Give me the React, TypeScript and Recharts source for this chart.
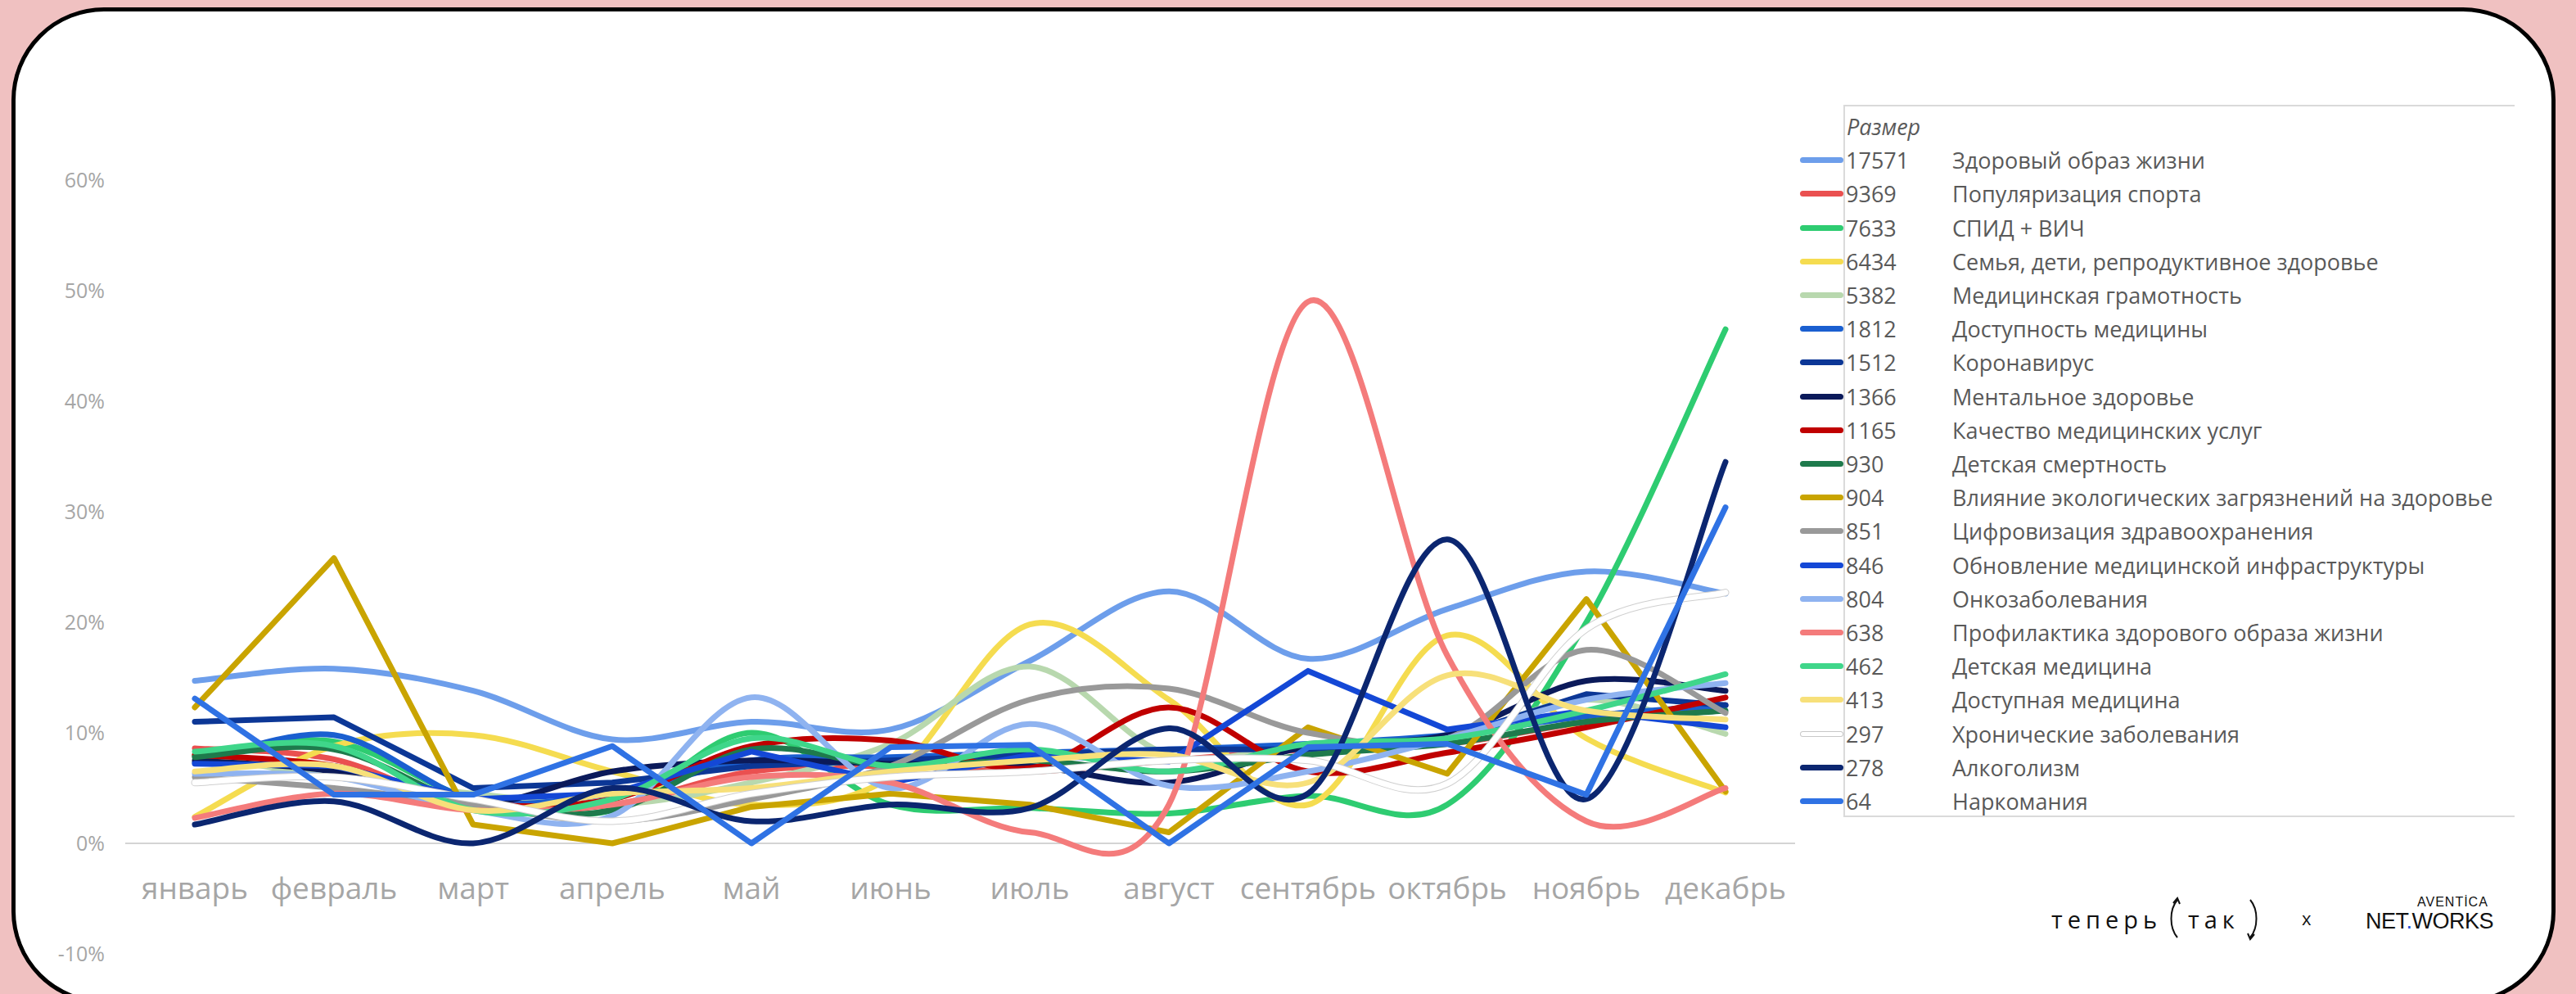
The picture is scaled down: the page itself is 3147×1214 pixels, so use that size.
import { LineChart, Line, XAxis, YAxis, ReferenceLine, Legend } from 'recharts'

const months = ['январь', 'февраль', 'март', 'апрель', 'май', 'июнь', 'июль', 'август', 'сентябрь', 'октябрь', 'ноябрь', 'декабрь']

const seriesNames = [
  'Здоровый образ жизни',
  'Популяризация спорта',
  'СПИД + ВИЧ',
  'Семья, дети, репродуктивное здоровье',
  'Медицинская грамотность',
  'Доступность медицины',
  'Коронавирус',
  'Ментальное здоровье',
  'Качество медицинских услуг',
  'Детская смертность',
  'Влияние экологических загрязнений на здоровье',
  'Цифровизация здравоохранения',
  'Обновление медицинской инфраструктуры',
  'Онкозаболевания',
  'Профилактика здорового образа жизни',
  'Детская медицина',
  'Доступная медицина',
  'Хронические заболевания',
  'Алкоголизм',
  'Наркомания',
]
const seriesSizes = [17571, 9369, 7633, 6434, 5382, 1812, 1512, 1366, 1165, 930, 904, 851, 846, 804, 638, 462, 413, 297, 278, 64]

// share of mentions per month, %
const zozh = [14.7, 15.8, 13.8, 9.4, 11.0, 10.3, 16.5, 22.8, 16.7, 21.2, 24.6, 22.6]
const sport = [8.6, 7.6, 3.2, 3.5, 6.5, 7.0, 6.5, 7.5, 8.5, 9.0, 11.0, 12.5]
const aids = [7.9, 9.2, 4.0, 3.0, 10.0, 3.5, 3.2, 2.7, 4.3, 3.5, 20.0, 46.5]
const family = [2.4, 8.8, 9.8, 6.5, 3.5, 6.0, 19.8, 13.0, 3.5, 18.8, 9.5, 4.6]
const literacy = [8.0, 6.0, 4.5, 3.5, 5.5, 9.0, 16.0, 8.0, 9.0, 9.5, 13.0, 9.9]
const access = [7.3, 9.8, 4.0, 4.5, 7.5, 7.8, 8.2, 8.5, 9.0, 9.8, 11.5, 12.5]
const covid = [11.0, 11.4, 5.0, 5.5, 7.0, 7.5, 8.0, 8.5, 8.5, 9.5, 13.5, 12.5]
const mental = [7.5, 6.5, 3.5, 6.5, 7.5, 7.2, 7.0, 5.5, 8.8, 9.8, 14.7, 13.8]
const quality = [8.0, 7.0, 3.7, 4.0, 8.8, 9.3, 6.8, 12.3, 6.5, 8.2, 10.5, 13.2]
const childDeath = [7.8, 8.5, 3.5, 3.0, 8.5, 7.0, 7.5, 6.5, 8.0, 9.0, 11.0, 12.0]
const ecology = [12.3, 25.8, 1.7, 0.0, 3.3, 4.5, 3.5, 1.0, 10.5, 6.3, 22.1, 4.7]
const digital = [6.0, 5.0, 3.5, 2.0, 4.0, 7.0, 13.0, 14.0, 10.0, 9.5, 17.5, 11.8]
const infra = [7.2, 7.0, 4.0, 4.5, 8.3, 5.5, 8.0, 7.4, 15.6, 10.3, 12.0, 10.5]
const onco = [6.3, 6.0, 3.0, 2.5, 13.2, 5.0, 10.8, 5.2, 6.5, 9.5, 13.0, 14.5]
const prevention = [2.3, 4.5, 3.0, 3.5, 6.0, 5.5, 1.0, 3.5, 49.0, 17.0, 2.0, 5.0]
const childMed = [8.3, 8.8, 3.0, 4.0, 9.5, 7.0, 8.5, 6.5, 9.0, 9.5, 12.0, 15.3]
const affordable = [6.5, 7.0, 3.0, 4.5, 5.0, 6.5, 7.5, 8.0, 5.5, 15.2, 12.0, 11.2]
const chronic = [5.5, 6.0, 4.0, 2.0, 4.5, 6.0, 6.5, 7.5, 7.5, 5.4, 19.4, 22.7]
const alcohol = [1.7, 3.8, 0.0, 5.0, 2.0, 3.5, 3.2, 10.4, 4.5, 27.5, 4.0, 34.5]
const drugs = [13.1, 4.4, 4.4, 8.8, 0.0, 8.7, 8.9, 0.0, 8.7, 9.0, 4.4, 30.4]

const seriesValues = [
  zozh, sport, aids, family, literacy, access, covid, mental, quality, childDeath,
  ecology, digital, infra, onco, prevention, childMed, affordable, chronic, alcohol, drugs,
]

const yTicks = [-10, 0, 10, 20, 30, 40, 50, 60]

const colors = [
  '#6d9eeb', '#ea5050', '#2ecc71', '#f5dc50', '#b8d8ae', '#1a5fd0', '#0c3796', '#0b1a5a', '#c00000', '#1e7a4c',
  '#c9a400', '#999999', '#1448d6', '#8fb3f0', '#f47b7b', '#3fd68a', '#f7e07a', '#ffffff', '#0b2670', '#2f72e4',
]
// these series are drawn with straight segments in the source
const straight = [6, 10, 12, 19]
const WHITE = 17

const rows = months.map((month, i) => {
  const row: Record<string, string | number> = { month }
  seriesValues.forEach((vals, s) => {
    row[`s${s}`] = vals[i]
  })
  return row
})

// Excel-style smoothed line (uniform Catmull-Rom as cubic beziers)
function excelSmooth(context: any) {
  let pts: number[][] = []
  return {
    areaStart() {},
    areaEnd() {},
    lineStart() {
      pts = []
    },
    point(x: number, y: number) {
      pts.push([+x, +y])
    },
    lineEnd() {
      const n = pts.length
      if (!n) return
      context.moveTo(pts[0][0], pts[0][1])
      for (let i = 0; i < n - 1; i++) {
        const p0 = pts[Math.max(i - 1, 0)]
        const p1 = pts[i]
        const p2 = pts[i + 1]
        const p3 = pts[Math.min(i + 2, n - 1)]
        context.bezierCurveTo(
          p1[0] + (p2[0] - p0[0]) / 6,
          p1[1] + (p2[1] - p0[1]) / 6,
          p2[0] - (p3[0] - p1[0]) / 6,
          p2[1] - (p3[1] - p1[1]) / 6,
          p2[0],
          p2[1],
        )
      }
    },
  }
}

const FONT = "'Open Sans', 'DejaVu Sans', sans-serif"

function MonthTick({ x, y, payload }: any) {
  return (
    <text x={x} y={y - 82} textAnchor="middle" dominantBaseline="central" fill="#a6a6a6" fontSize={37} fontFamily={FONT}>
      {payload.value}
    </text>
  )
}

const ROW = 41.2

function LegendBox() {
  return (
    <div style={{ position: 'relative', width: 880, height: 872, fontFamily: FONT, fontSize: 27, color: '#595959' }}>
      <div
        style={{
          position: 'absolute',
          left: 53,
          top: 0,
          width: 820,
          height: 870,
          boxSizing: 'border-box',
          border: '2px solid #dadada',
          borderRight: 'none',
        }}
      />
      <div style={{ position: 'absolute', left: 57, top: 6, height: ROW, lineHeight: `${ROW}px`, fontStyle: 'italic' }}>Размер</div>
      {seriesNames.map((name, k) => (
        <div key={name} style={{ position: 'absolute', left: 0, top: 6 + (k + 1) * ROW, height: ROW, width: 880 }}>
          <div
            style={{
              position: 'absolute',
              left: 0,
              top: ROW / 2 - 3.5,
              width: 53,
              height: 7,
              borderRadius: 4,
              background: colors[k],
              boxShadow: k === WHITE ? 'inset 0 0 0 1px #c8c8c8' : undefined,
            }}
          />
          <div style={{ position: 'absolute', left: 56, top: 0, lineHeight: `${ROW}px` }}>{seriesSizes[k]}</div>
          <div style={{ position: 'absolute', left: 186, top: 0, lineHeight: `${ROW}px`, whiteSpace: 'nowrap' }}>{name}</div>
        </div>
      ))}
    </div>
  )
}

function Bracket({ up }: { up: boolean }) {
  return (
    <svg width={20} height={58} viewBox="0 0 20 58" style={{ margin: '0 6px' }}>
      {up ? (
        <>
          <path d="M13 6 C3 18 3 40 13 52" fill="none" stroke="#111" strokeWidth={2} />
          <path d="M8 10 L13 4 L16 11" fill="none" stroke="#111" strokeWidth={2} />
        </>
      ) : (
        <>
          <path d="M7 6 C17 18 17 40 7 52" fill="none" stroke="#111" strokeWidth={2} />
          <path d="M4 47 L7 54 L12 48" fill="none" stroke="#111" strokeWidth={2} />
        </>
      )}
    </svg>
  )
}

function Brand() {
  return (
    <>
      <div
        style={{
          position: 'absolute',
          left: 2506,
          top: 1093,
          height: 58,
          display: 'flex',
          alignItems: 'center',
          fontFamily: FONT,
          fontSize: 29,
          color: '#111',
          letterSpacing: 6,
        }}
      >
        <span>теперь</span>
        <Bracket up />
        <span>так</span>
        <Bracket up={false} />
      </div>
      <div style={{ position: 'absolute', left: 2812, top: 1106, fontFamily: FONT, fontSize: 22, color: '#111' }}>x</div>
      <div
        style={{
          position: 'absolute',
          left: 2953,
          top: 1093,
          fontFamily: "'Liberation Sans', Arial, sans-serif",
          fontSize: 16,
          letterSpacing: 1,
          color: '#111',
        }}
      >
        AVENTİCA
      </div>
      <div
        style={{
          position: 'absolute',
          left: 2890,
          top: 1110,
          fontFamily: "'Liberation Sans', Arial, sans-serif",
          fontSize: 27,
          letterSpacing: -0.5,
          color: '#111',
        }}
      >
        NET<span style={{ color: '#1f4fd8' }}>.</span>WORKS
      </div>
    </>
  )
}

export default function App() {
  return (
    <div style={{ position: 'fixed', left: 0, top: 0, width: 3147, height: 1214, background: '#f0c1c1', overflow: 'hidden' }}>
      <div
        style={{
          position: 'absolute',
          left: 14,
          top: 9,
          width: 3108,
          height: 1217,
          boxSizing: 'border-box',
          border: '5px solid #000',
          borderRadius: 113,
          background: '#fff',
        }}
      />
      <div style={{ position: 'absolute', left: 0, top: 0 }}>
        <LineChart width={3147} height={1214} data={rows} margin={{ top: 220, right: 954, bottom: 19, left: 0 }}>
          <XAxis
            dataKey="month"
            height={30}
            interval={0}
            padding={{ left: 85, right: 85 }}
            axisLine={false}
            tickLine={false}
            tickSize={0}
            tickMargin={0}
            tick={<MonthTick />}
          />
          <YAxis
            width={153}
            type="number"
            domain={[-10, 60]}
            ticks={yTicks}
            interval={0}
            axisLine={false}
            tickLine={false}
            tickSize={0}
            tickMargin={25}
            tickFormatter={(v: number) => `${v}%`}
            tick={{ fill: '#a6a6a6', fontSize: 25, fontFamily: FONT }}
          />
          <ReferenceLine y={0} stroke="#d4d4d4" strokeWidth={2} />
          <Legend
            layout="horizontal"
            verticalAlign="middle"
            align="center"
            content={() => <LegendBox />}
            wrapperStyle={{ left: 2199, top: 128, width: 880, height: 872 }}
          />
          {seriesValues.map((_, s) => {
            const curve = straight.includes(s) ? 'linear' : excelSmooth
            const main = (
              <Line
                key={`s${s}`}
                dataKey={`s${s}`}
                name={seriesNames[s]}
                type={curve as any}
                stroke={colors[s]}
                strokeWidth={7}
                strokeLinecap="round"
                strokeLinejoin="round"
                dot={false}
                activeDot={false}
                isAnimationActive={false}
              />
            )
            if (s !== WHITE) return main
            return [
              <Line
                key={`s${s}-edge`}
                dataKey={`s${s}`}
                type={curve as any}
                stroke="#cfcfcf"
                strokeWidth={9}
                strokeLinecap="round"
                dot={false}
                activeDot={false}
                legendType="none"
                isAnimationActive={false}
              />,
              main,
            ]
          })}
        </LineChart>
      </div>
      <Brand />
    </div>
  )
}
